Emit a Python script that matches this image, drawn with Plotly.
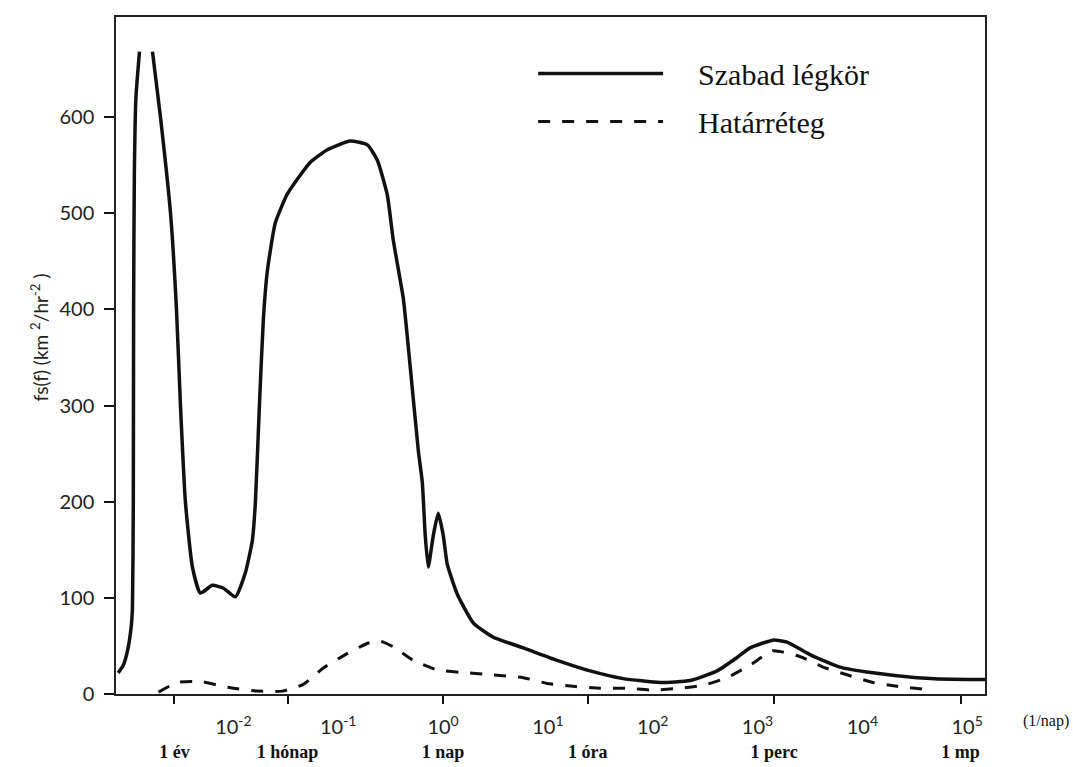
import numpy as np
import plotly.graph_objects as go

# ---- data (x given as log10 of frequency in 1/nap) ----
free_exp = [-3.10, -3.05, -3.01, -2.975, -2.963, -2.955, -2.952, -2.945, -2.93, -2.896, None,
            -2.772, -2.696, -2.60, -2.543, -2.505, -2.458, -2.391, -2.315,
            -2.20, -2.095, -1.981, -1.886, -1.819, -1.79, -1.752, -1.714, -1.676,
            -1.60, -1.485, -1.266, -1.104, -0.885, -0.722, -0.627, -0.532, -0.475,
            -0.379, -0.313, -0.236, -0.198, -0.17, -0.141, -0.093, -0.046, 0.002,
            0.04, 0.135, 0.288, 0.479, 0.765, 1.089, 1.403, 1.718, 2.07, 2.357,
            2.614, 2.805, 2.929, 3.148, 3.281, 3.50, 3.786, 4.10, 4.52, 4.997, 5.17]
free_val = [22, 30, 45, 70, 90, 200, 400, 540, 620, 668, None,
            668, 600, 500, 400, 300, 200, 132, 105,
            113, 110, 101, 126, 160, 200, 300, 390, 440,
            490, 520, 553, 566, 575, 571, 555, 519, 472,
            411, 340, 253, 220, 165, 132, 165, 188, 165,
            135, 104, 74, 59, 48, 35, 24, 16, 12, 14,
            24, 38, 48, 56, 54, 41, 28, 22, 17, 15, 15]

bl_exp = [-2.715, -2.534, -2.315, -2.057, -1.771, -1.533, -1.333, -1.142, -0.932,
          -0.713, -0.599, -0.475, -0.284, -0.055, 0.231, 0.45, 0.765, 0.993, 1.241,
          1.499, 1.756, 2.004, 2.261, 2.48, 2.709, 2.929, 3.148, 3.405, 3.624,
          3.853, 4.10, 4.33, 4.597]
bl_val = [2, 12, 13, 7, 3, 3, 10, 27, 41,
          53, 55, 49, 35, 25, 22, 20, 17, 11, 8,
          6, 6, 4, 6, 9, 17, 30, 45, 39, 28,
          20, 12, 8, 5]

decades = [1e-2, 1e-1, 1e0, 1e1, 1e2, 1e3, 1e4, 1e5]
decade_labels = ["10<sup>-2</sup>", "10<sup>-1</sup>", "10<sup>0</sup>", "10<sup>1</sup>",
                 "10<sup>2</sup>", "10<sup>3</sup>", "10<sup>4</sup>", "10<sup>5</sup>"]
marked_decades = [1e-2, 1e-1, 1e1, 1e2, 1e3, 1e4, 1e5]
periods = [1 / 365.0, 1 / 30.4, 1.0, 24.0, 1440.0, 86400.0]
period_labels = ["1 év", "1 hónap", "1 nap", "1 óra", "1 perc", "1 mp"]
y_ticks = [0, 100, 200, 300, 400, 500, 600]


def to_freq(exps):
    return [None if e is None else 10 ** e for e in exps]


GAP = "&nbsp;" * 4

fig = go.Figure()
fig.add_trace(go.Scatter(x=to_freq(free_exp), y=free_val, mode="lines",
                         name=GAP + "Szabad légkör", legendgroup="a",
                         line=dict(color="#111111", width=3.5, shape="spline", smoothing=0.5),
                         connectgaps=False))
fig.add_trace(go.Scatter(x=to_freq(bl_exp), y=bl_val, mode="lines",
                         name=GAP + "Határréteg", legendgroup="b",
                         line=dict(color="#111111", width=3, dash="12px,12px",
                                   shape="spline", smoothing=0.5)))
fig.add_trace(go.Scatter(x=marked_decades, y=[-4.5] * len(marked_decades), mode="markers",
                         xaxis="x2", showlegend=False, cliponaxis=False, hoverinfo="skip",
                         marker=dict(symbol="triangle-down", size=8, color="#111111")))

xr = [-3.12, 5.17]
fig.update_layout(
    width=1073, height=767, autosize=False,
    margin=dict(l=116, r=88, t=17, b=73, autoexpand=False),
    paper_bgcolor="white", plot_bgcolor="white",
    xaxis=dict(type="log", range=xr, tickvals=periods, automargin=False,
               ticktext=["<b>%s</b>" % p for p in period_labels],
               ticks="outside", ticklen=8, tickwidth=1.5, tickcolor="#111",
               ticklabelstandoff=33,
               tickfont=dict(family="Liberation Serif", size=18, color="#111"),
               showline=True, linecolor="#222", linewidth=1.5, mirror=True,
               showgrid=False, zeroline=False),
    xaxis2=dict(type="log", range=xr, overlaying="x", anchor="y", side="bottom",
                automargin=False,
                tickvals=decades, ticktext=decade_labels, ticks="",
                ticklabelstandoff=19,
                tickfont=dict(family="Lato", size=20, color="#222"),
                showline=False, showgrid=False, zeroline=False),
    yaxis=dict(range=[0, 704], tickvals=y_ticks, ticks="outside", ticklen=10,
               automargin=False,
               tickwidth=1.5, tickcolor="#111", ticklabelstandoff=6,
               tickfont=dict(family="Lato", size=20, color="#222"),
               showline=True, linecolor="#222", linewidth=1.5, mirror=True,
               showgrid=False, zeroline=False),
    legend=dict(x=0.48, y=0.955, xanchor="left", yanchor="top",
                font=dict(family="Liberation Serif", size=30, color="#111"),
                itemwidth=125, tracegroupgap=6, bgcolor="rgba(0,0,0,0)"),
    showlegend=True,
)

fig.add_annotation(text="fs(f) (km <sup>2</sup>/hr<sup>-2</sup> )", textangle=-90,
                   xref="paper", yref="paper", x=-0.105, y=0.527, showarrow=False,
                   font=dict(family="Lato", size=19, color="#222"))
fig.add_annotation(text="(1/nap)", xref="paper", yref="paper", x=1.099, y=-0.04,
                   xanchor="right", yanchor="middle", showarrow=False,
                   font=dict(family="Liberation Serif", size=16, color="#111"))

fig.write_html("out.html")
